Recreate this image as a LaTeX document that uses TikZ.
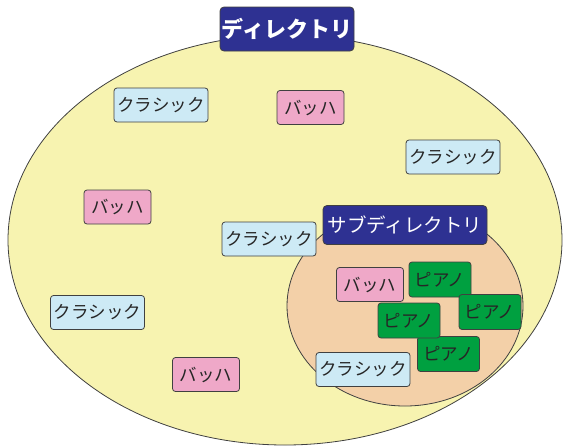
\documentclass[tikz,border=0pt]{standalone}
\usepackage{fontspec}
\newfontfamily\jp{Noto Sans CJK JP}
\definecolor{outerfill}{HTML}{F7F3B0}
\definecolor{innerfill}{HTML}{F3D0A8}
\definecolor{classicfill}{HTML}{CDEAF5}
\definecolor{bachfill}{HTML}{EFA8C8}
\definecolor{pianofill}{HTML}{00A040}
\definecolor{titlefill}{HTML}{2E3192}
\definecolor{edge}{HTML}{404040}
\tikzset{
  lbl/.style={draw=edge, line width=0.8pt, rounded corners=3pt, inner sep=0pt,
    minimum height=34pt, font=\jp\fontsize{17.5}{17.5}\selectfont, text=black!85},
  classic/.style={lbl, fill=classicfill, minimum width=94pt},
  bach/.style={lbl, fill=bachfill, minimum width=67pt},
  piano/.style={lbl, fill=pianofill, minimum width=62pt, minimum height=35pt},
  titlebox/.style={draw=edge, line width=0.8pt, rounded corners=4pt, inner sep=0pt,
    fill=titlefill, text=white},
}
\begin{document}
\begin{tikzpicture}[x=1pt,y=-1pt]
\useasboundingbox (0,0) rectangle (564,447);
% outer directory
\draw[draw=edge, line width=0.8pt, fill=outerfill] (285,240) ellipse [x radius=277pt, y radius=205pt];
% inner subdirectory
\draw[draw=edge, line width=0.8pt, fill=innerfill] (405,306) ellipse [x radius=118pt, y radius=100pt];
% titles
\node[titlebox, minimum width=134pt, minimum height=44pt, font=\jp\bfseries\fontsize{22}{22}\selectfont] (dir) at (287,29) {ディレクトリ};
\node[titlebox, minimum width=164pt, minimum height=39pt, font=\jp\fontsize{19.5}{19.5}\selectfont] (subdir) at (405,225) {サブディレクトリ};
% outer labels
\node[classic] (c1) at (161,105) {クラシック};
\node[bach] (b1) at (310.5,107.5) {バッハ};
\node[classic] (c2) at (453,157) {クラシック};
\node[bach] (b2) at (117.5,207) {バッハ};
\node[classic] (c3) at (269,239) {クラシック};
\node[classic] (c4) at (97.5,312.5) {クラシック};
\node[bach] (b3) at (206,374.5) {バッハ};
% inner labels
\node[bach] (b4) at (370,284.5) {バッハ};
\node[piano] (p1) at (440,279.5) {ピアノ};
\node[piano] (p2) at (490,312) {ピアノ};
\node[piano] (p4) at (448.5,354) {ピアノ};
\node[piano] (p3) at (409,320.5) {ピアノ};
\node[classic] (c5) at (363,369.5) {クラシック};
\end{tikzpicture}
\end{document}
